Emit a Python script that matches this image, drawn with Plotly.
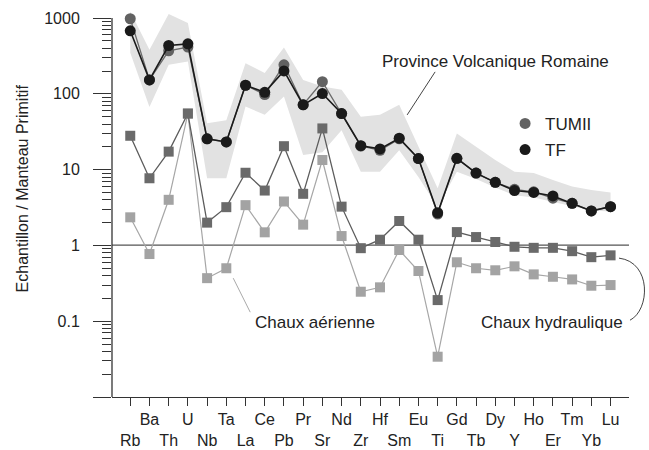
import plotly.graph_objects as go

elements = ["Rb", "Ba", "Th", "U", "Nb", "Ta", "La", "Ce", "Pb", "Pr", "Sr", "Nd", "Zr",
            "Hf", "Sm", "Eu", "Ti", "Gd", "Tb", "Dy", "Y", "Ho", "Er", "Tm", "Yb", "Lu"]
tf = [680, 153, 435, 457, 25.5, 23.2, 130, 105, 201, 71.6, 101, 55, 20.7,
      18.8, 26, 14, 2.7, 14.1, 9.0, 6.8, 5.3, 5.0, 4.5, 3.6, 2.85, 3.25]
tumii = [980, 153, 370, 414, 25.5, 23.2, 130, 98, 242, 72, 145, 55, 20.5,
         18, 25.5, 14, 2.6, 14, 9.0, 6.8, 5.5, 5.1, 4.2, 3.6, 2.85, 3.25]
hydraulique = [28, 7.7, 17.3, 55, 2.0, 3.2, 9.1, 5.3, 20.4, 4.8, 35, 3.25, 0.92,
               1.19, 2.1, 1.19, 0.19, 1.5, 1.29, 1.11, 0.96, 0.93, 0.93, 0.84, 0.70, 0.74]
aerienne = [2.35, 0.77, 4.0, 55, 0.37, 0.50, 3.4, 1.49, 3.8, 1.88, 13.4, 1.33, 0.245,
            0.28, 0.87, 0.46, 0.034, 0.60, 0.50, 0.47, 0.53, 0.415, 0.386, 0.356, 0.294, 0.30]
pvr_upper = [1220, 381, 1130, 860, 41, 45, 254, 188, 409, 153, 125, 113, 50,
             53, 72, 20, 5.7, 30, 20, 13.4, 9.4, 9.0, 7.3, 6.0, 5.4, 5.0]
pvr_lower = [348, 67, 242, 267, 7.7, 7.7, 68, 53, 92, 15.6, 17, 33, 9.4,
             9.4, 18, 8, 3.2, 9.4, 7.5, 5.8, 4.6, 4.3, 3.8, 3.3, 2.9, 2.8]
ytick_vals = [0.01, 0.1, 1, 10, 100, 1000]
ytick_text = ["", "0.1", "1", "10", "100", "1000"]

FONT = "Liberation Sans, Arial, Helvetica, sans-serif"
idx = list(range(len(elements)))
xtick_text = [e if i % 2 else "<br>" + e for i, e in enumerate(elements)]
minor_vals = [m * 10 ** k for k in range(-2, 3) for m in range(2, 10)]

# plot area geometry (pixels)
L, R, T, B = 111.7, 629.0, 9.2, 396.7
W, H = 649, 450


def px(x):
    return (x - L) / (R - L)


def py(y):
    return (B - y) / (B - T)


fig = go.Figure()
fig.add_trace(go.Scatter(
    x=idx + idx[::-1], y=pvr_upper + pvr_lower[::-1], fill="toself",
    fillcolor="#e2e2e2", line=dict(width=0), mode="lines", showlegend=False,
    hoverinfo="skip"))
fig.add_trace(go.Scatter(
    x=idx, y=aerienne, mode="lines+markers", showlegend=False,
    line=dict(color="#a6a6a6", width=1.2),
    marker=dict(symbol="square", size=10, color="#a3a3a3")))
fig.add_trace(go.Scatter(
    x=idx, y=hydraulique, mode="lines+markers", showlegend=False,
    line=dict(color="#5c5c5c", width=1.3),
    marker=dict(symbol="square", size=10, color="#6a6a6a")))
fig.add_trace(go.Scatter(
    x=idx, y=tumii, mode="lines+markers", showlegend=False,
    line=dict(color="#6a6a6a", width=1.3),
    marker=dict(symbol="circle", size=11, color="#626262")))
fig.add_trace(go.Scatter(
    x=idx, y=tf, mode="lines+markers", showlegend=False,
    line=dict(color="#1a1a1a", width=1.6),
    marker=dict(symbol="circle", size=11, color="#1a1a1a")))
# legend entries
fig.add_trace(go.Scatter(x=[None], y=[None], mode="markers", name="TUMII",
                         legendgroup="a",
                         marker=dict(symbol="circle", size=11, color="#626262")))
fig.add_trace(go.Scatter(x=[None], y=[None], mode="markers", name="TF",
                         legendgroup="b",
                         marker=dict(symbol="circle", size=11, color="#1a1a1a")))

shapes = [
    dict(type="line", xref="paper", yref="paper", x0=0, x1=1, y0=py(245), y1=py(245),
         line=dict(color="#555555", width=1.3), layer="below"),
    dict(type="line", xref="paper", yref="paper", x0=px(435), y0=py(72),
         x1=px(407), y1=py(115), line=dict(color="#444444", width=1)),
    dict(type="line", xref="paper", yref="paper", x0=px(233), y0=py(278),
         x1=px(250), y1=py(312), line=dict(color="#aaaaaa", width=1)),
    dict(type="path", xref="paper", yref="paper",
         path="M %f,%f C %f,%f %f,%f %f,%f" % (px(619), py(258), px(652), py(262),
                                                px(650), py(310), px(630), py(320)),
         line=dict(color="#444444", width=1)),
    dict(type="line", xref="paper", yref="paper", x0=0, x1=0, y0=0, y1=py(18.3),
         line=dict(color="#333333", width=1.3)),
]

annotations = [
    dict(text="Province Volcanique Romaine", x=px(495), y=py(62), xref="paper",
         yref="paper", xanchor="center", yanchor="middle", showarrow=False,
         font=dict(size=17, color="#222222", family=FONT)),
    dict(text="Chaux aérienne", x=px(253), y=py(322), xref="paper", yref="paper",
         xanchor="left", yanchor="middle", showarrow=False,
         font=dict(size=17, color="#222222", family=FONT)),
    dict(text="Chaux hydraulique", x=px(625), y=py(322), xref="paper", yref="paper",
         xanchor="right", yanchor="middle", showarrow=False,
         font=dict(size=17, color="#222222", family=FONT)),
    dict(text="Echantillon / Manteau Primitif", x=px(22), y=py(188), xref="paper",
         yref="paper", xanchor="center", yanchor="middle", textangle=-90,
         showarrow=False, font=dict(size=16, color="#222222", family=FONT)),
]

fig.update_layout(
    width=W, height=H, plot_bgcolor="white", paper_bgcolor="white",
    margin=dict(l=L, r=W - R, t=T, b=H - B, autoexpand=False),
    font=dict(family=FONT, size=16, color="#222222"),
    shapes=shapes, annotations=annotations,
    legend=dict(x=px(505), y=py(106), xanchor="left", yanchor="top",
                bgcolor="rgba(0,0,0,0)", font=dict(size=17), tracegroupgap=1,
                itemsizing="trace"),
    hovermode=False,
)
fig.update_xaxes(
    range=[-0.95, 25.96], tickmode="array", tickvals=idx, ticktext=xtick_text,
    ticks="outside", ticklen=8, tickcolor="#333333", tickwidth=1.3,
    showline=True, linecolor="#333333", linewidth=1.3, showgrid=False, zeroline=False,
    tickfont=dict(size=16, color="#222222"), tickangle=0)
fig.update_yaxes(
    type="log", range=[-2, 3.12], tickmode="array", tickvals=ytick_vals,
    ticktext=ytick_text, ticks="outside", ticklen=18, tickcolor="#333333", tickwidth=1.3,
    ticklabelstandoff=10,
    showline=False, showgrid=False, zeroline=False,
    tickfont=dict(size=16, color="#222222"),
    minor=dict(tickmode="array", tickvals=minor_vals, ticks="outside", ticklen=9,
               tickcolor="#333333", tickwidth=1.1, showgrid=False))

fig.write_html("out.html", config={"displayModeBar": False},
               post_script="document.body.style.margin='0';"
                           "document.body.style.overflow='hidden';")
